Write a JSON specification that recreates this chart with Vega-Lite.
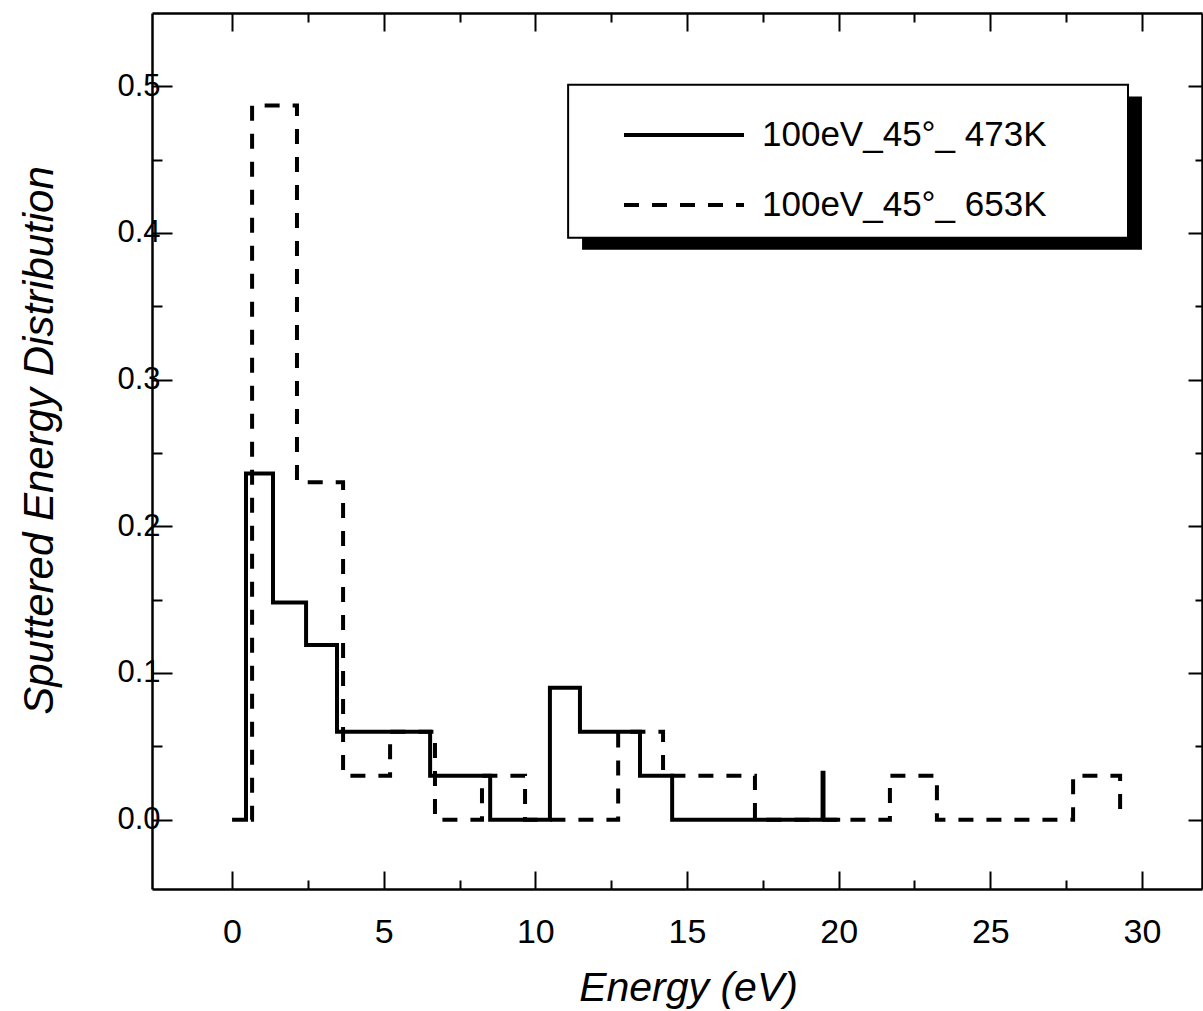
{
  "$schema": "https://vega.github.io/schema/vega-lite/v6.json",
  "width": 1050,
  "height": 876,
  "autosize": "none",
  "padding": {"left": 152, "top": 13, "right": 1, "bottom": 122},
  "background": "white",
  "config": {
    "view": {"stroke": null},
    "axis": {"domainColor": "black", "domainWidth": 2.5, "tickColor": "black", "tickWidth": 2, "grid": false, "labelColor": "black", "titleColor": "black", "labelFlush": false, "labelOverlap": false},
    "legend": {"orient": "none", "legendX": 470, "legendY": 107, "symbolType": "stroke", "symbolSize": 14400, "symbolStrokeWidth": 4, "symbolStrokeColor": "black", "clipHeight": 30, "rowPadding": 35, "labelOffset": 16, "labelFontSize": 35, "labelFont": "Liberation Sans", "labelColor": "black", "padding": 0, "labelLimit": 600}
  },
  "resolve": {"axis": {"x": "independent", "y": "independent"}},
  "layer": [
    {
      "data": {"values": [{}]},
      "mark": {"type": "rect", "fill": "black"},
      "encoding": {
        "x": {"datum": 11.54, "type": "quantitative", "scale": {"domain": [-2.64, 31.98], "nice": false, "zero": false}, "axis": null},
        "x2": {"datum": 30.0},
        "y": {"datum": 0.493, "type": "quantitative", "scale": {"domain": [-0.0473, 0.55], "nice": false, "zero": false}, "axis": null},
        "y2": {"datum": 0.3886}
      }
    },
    {
      "data": {"values": [{}]},
      "mark": {"type": "rect", "fill": "white", "stroke": "black", "strokeWidth": 2},
      "encoding": {
        "x": {"datum": 11.08, "type": "quantitative", "scale": {"domain": [-2.64, 31.98], "nice": false, "zero": false},
          "axis": {"orient": "top", "values": [0, 2.5, 5, 7.5, 10, 12.5, 15, 17.5, 20, 22.5, 25, 27.5, 30], "labels": false, "title": null,
            "tickSize": {"condition": {"test": "datum.value % 5 === 0", "value": -18}, "value": -9}}},
        "x2": {"datum": 29.54},
        "y": {"datum": 0.5011, "type": "quantitative", "scale": {"domain": [-0.0473, 0.55], "nice": false, "zero": false},
          "axis": {"orient": "right", "values": [0, 0.05, 0.1, 0.15, 0.2, 0.25, 0.3, 0.35, 0.4, 0.45, 0.5], "labels": false, "title": null,
            "tickSize": {"condition": {"test": "abs(datum.value*10 - round(datum.value*10)) < 1e-6", "value": -14}, "value": -7}}},
        "y2": {"datum": 0.3968}
      }
    },
    {
      "data": {"values": [
        {"energy": 0, "dist": 0, "series": "100eV_45°_ 473K"},
        {"energy": 0.46, "dist": 0.236, "series": "100eV_45°_ 473K"},
        {"energy": 1.35, "dist": 0.148, "series": "100eV_45°_ 473K"},
        {"energy": 2.44, "dist": 0.119, "series": "100eV_45°_ 473K"},
        {"energy": 3.46, "dist": 0.06, "series": "100eV_45°_ 473K"},
        {"energy": 6.53, "dist": 0.03, "series": "100eV_45°_ 473K"},
        {"energy": 8.51, "dist": 0, "series": "100eV_45°_ 473K"},
        {"energy": 10.48, "dist": 0.09, "series": "100eV_45°_ 473K"},
        {"energy": 11.47, "dist": 0.06, "series": "100eV_45°_ 473K"},
        {"energy": 13.45, "dist": 0.03, "series": "100eV_45°_ 473K"},
        {"energy": 14.51, "dist": 0, "series": "100eV_45°_ 473K"},
        {"energy": 19.47, "dist": 0.032, "series": "100eV_45°_ 473K"},
        {"energy": 19.5, "dist": 0, "series": "100eV_45°_ 473K"},
        {"energy": 20.05, "dist": 0, "series": "100eV_45°_ 473K"},
        {"energy": 0.62, "dist": 0, "series": "100eV_45°_ 653K"},
        {"energy": 0.66, "dist": 0.487, "series": "100eV_45°_ 653K"},
        {"energy": 2.14, "dist": 0.23, "series": "100eV_45°_ 653K"},
        {"energy": 3.66, "dist": 0.03, "series": "100eV_45°_ 653K"},
        {"energy": 5.21, "dist": 0.06, "series": "100eV_45°_ 653K"},
        {"energy": 6.69, "dist": 0, "series": "100eV_45°_ 653K"},
        {"energy": 8.24, "dist": 0.03, "series": "100eV_45°_ 653K"},
        {"energy": 9.66, "dist": 0, "series": "100eV_45°_ 653K"},
        {"energy": 12.73, "dist": 0.06, "series": "100eV_45°_ 653K"},
        {"energy": 14.21, "dist": 0.03, "series": "100eV_45°_ 653K"},
        {"energy": 17.24, "dist": 0, "series": "100eV_45°_ 653K"},
        {"energy": 21.69, "dist": 0.03, "series": "100eV_45°_ 653K"},
        {"energy": 23.24, "dist": 0, "series": "100eV_45°_ 653K"},
        {"energy": 27.73, "dist": 0.03, "series": "100eV_45°_ 653K"},
        {"energy": 29.28, "dist": 0, "series": "100eV_45°_ 653K"}
      ]},
      "mark": {"type": "line", "interpolate": "step-after", "color": "black", "strokeWidth": 4},
      "encoding": {
        "x": {"field": "energy", "type": "quantitative", "scale": {"domain": [-2.64, 31.98], "nice": false, "zero": false},
          "axis": {"orient": "bottom", "values": [0, 2.5, 5, 7.5, 10, 12.5, 15, 17.5, 20, 22.5, 25, 27.5, 30],
            "labelExpr": "datum.value % 5 === 0 ? format(datum.value, 'd') : ''",
            "labelFont": "Liberation Sans", "labelFontSize": 34, "labelPadding": 44,
            "tickSize": {"condition": {"test": "datum.value % 5 === 0", "value": -18}, "value": -9},
            "title": "Energy (eV)", "titleFont": "Liberation Sans", "titleFontSize": 41, "titleFontStyle": "italic", "titleFontWeight": "normal",
            "titleX": 536, "titleY": 111, "titleBaseline": "alphabetic", "titleAlign": "center", "titleAnchor": null}},
        "y": {"field": "dist", "type": "quantitative", "scale": {"domain": [-0.0473, 0.55], "nice": false, "zero": false},
          "axis": {"orient": "left", "values": [0, 0.05, 0.1, 0.15, 0.2, 0.25, 0.3, 0.35, 0.4, 0.45, 0.5],
            "labelExpr": "abs(datum.value*10 - round(datum.value*10)) < 1e-6 ? format(datum.value, '.1f') : ''",
            "labelFont": "Liberation Sans", "labelFontSize": 31, "labelPadding": 12,
            "tickSize": {"condition": {"test": "abs(datum.value*10 - round(datum.value*10)) < 1e-6", "value": -20}, "value": -10},
            "title": "Sputtered Energy Distribution", "titleFont": "Liberation Sans", "titleFontSize": 42, "titleFontStyle": "italic", "titleFontWeight": "normal",
            "titleAngle": 270, "titleX": -100, "titleY": 427, "titleBaseline": "alphabetic", "titleAlign": "center"}},
        "strokeDash": {"field": "series", "type": "nominal",
          "scale": {"domain": ["100eV_45°_ 473K", "100eV_45°_ 653K"], "range": [[1, 0], [15, 13]]},
          "legend": {"title": null}},
        "order": {"field": "energy", "type": "quantitative"}
      }
    }
  ]
}
